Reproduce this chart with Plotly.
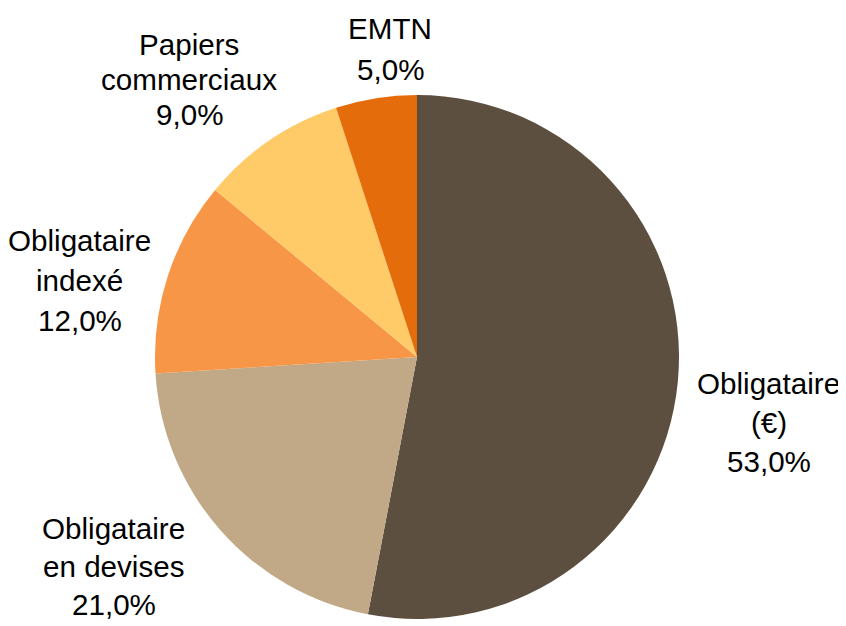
import math
import plotly.graph_objects as go

# Data
categories = ["Obligataire (€)", "Obligataire en devises", "Obligataire indexé",
              "Papiers commerciaux", "EMTN"]
label_lines = [["Obligataire", "(€)"], ["Obligataire", "en devises"],
               ["Obligataire", "indexé"], ["Papiers", "commerciaux"], ["EMTN"]]
values = [53.0, 21.0, 12.0, 9.0, 5.0]

# Styles / layout
colors = ["#5C4F3F", "#C1A987", "#F79646", "#FFCA68", "#E46C0A"]
W, H = 846, 626
OFF = 8  # page body margin
CX, CY, R = 417 - OFF, 357 - OFF, 262
LABEL_K = 1.33
nudges = [(5, 33), (-42, -21), (-6, 31), (-32, 11), (28, 36)]  # label nudges in px
line_gap = [39, 38, 40, 35, 41]
font = dict(family="Liberation Sans, Arial, sans-serif", size=29.6, color="#000000")

fig = go.Figure(go.Pie(
    labels=categories, values=values, sort=False, direction="clockwise",
    rotation=0, marker=dict(colors=colors, line=dict(width=0)),
    textinfo="none", hoverinfo="label+percent", showlegend=False,
    domain=dict(x=[(CX - R) / W, (CX + R) / W], y=[1 - (CY + R) / H, 1 - (CY - R) / H]),
))

total = sum(values)
cum = 0.0
annotations = []
for i, v in enumerate(values):
    mid = (cum + v / 2) / total * 2 * math.pi
    cum += v
    px = CX + R * LABEL_K * math.sin(mid) + nudges[i][0]
    py = CY - R * LABEL_K * math.cos(mid) + nudges[i][1]
    lines = label_lines[i] + [f"{v:.1f}%".replace(".", ",")]
    n = len(lines)
    for j, t in enumerate(lines):
        ly = py + (j - (n - 1) / 2) * line_gap[i]
        annotations.append(dict(x=px / W, y=1 - ly / H, xref="paper", yref="paper",
                                text=t, showarrow=False, font=font,
                                xanchor="center", yanchor="middle"))

fig.update_layout(width=W, height=H, margin=dict(l=0, r=0, t=0, b=0),
                  paper_bgcolor="white", plot_bgcolor="white",
                  annotations=annotations)
fig.write_html("out.html")
